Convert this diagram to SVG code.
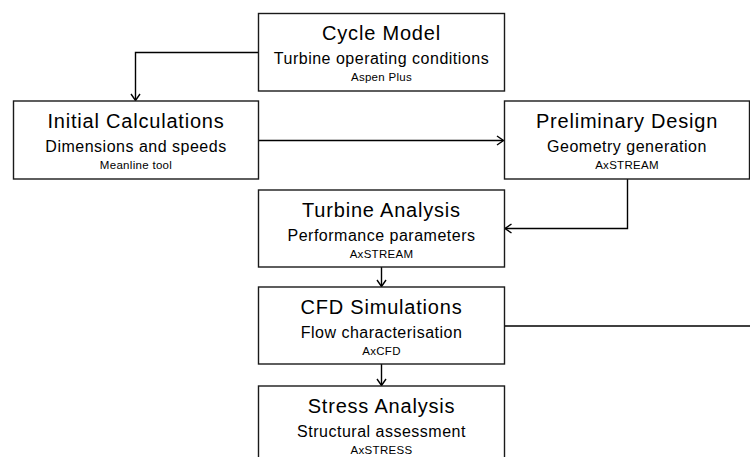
<svg xmlns="http://www.w3.org/2000/svg" width="750" height="457" viewBox="0 0 750 457">
<style>
  .box { fill: #ffffff; stroke: #1a1a1a; stroke-width: 1.4; }
  .conn { fill: none; stroke: #000000; stroke-width: 1.4; }
  text { font-family: "Liberation Sans", Arial, sans-serif; fill: #000000; text-anchor: middle; }
  .t { font-size: 20px; letter-spacing: 0.8px; }
  .s { font-size: 16px; letter-spacing: 0.5px; }
  .k { font-size: 11.5px; letter-spacing: 0.3px; }
</style>
<defs>
  <marker id="arr" markerUnits="userSpaceOnUse" markerWidth="14" markerHeight="14" refX="7" refY="7" orient="auto" overflow="visible">
    <path d="M0.5,2.5 L7,7 L0.5,11.5" fill="none" stroke="#000" stroke-width="1.4"/>
  </marker>
</defs>
<rect width="750" height="457" fill="#ffffff"/>
<g id="connectors">
  <path class="conn" d="M258.5,52.5 H135.5 V100.5" marker-end="url(#arr)"/>
  <path class="conn" d="M258.5,140.5 H503.5" marker-end="url(#arr)"/>
  <path class="conn" d="M627.5,179 V228.5 H505" marker-end="url(#arr)"/>
  <path class="conn" d="M381.5,267 V286.5" marker-end="url(#arr)"/>
  <path class="conn" d="M381.5,364 V385.5" marker-end="url(#arr)"/>
  <path class="conn" d="M504.5,326 H750"/>
</g>
<g id="cycle-model">
  <rect class="box" x="258.5" y="13.5" width="246" height="77.5"/>
  <text class="t" x="381.5" y="40">Cycle Model</text>
  <text class="s" x="381.5" y="64">Turbine operating conditions</text>
  <text class="k" x="381.5" y="81">Aspen Plus</text>
</g>
<g id="initial-calculations">
  <rect class="box" x="13.5" y="101" width="245" height="78"/>
  <text class="t" x="136" y="128">Initial Calculations</text>
  <text class="s" x="136" y="152">Dimensions and speeds</text>
  <text class="k" x="136" y="169">Meanline tool</text>
</g>
<g id="preliminary-design">
  <rect class="box" x="504.5" y="101" width="245" height="78"/>
  <text class="t" x="627" y="128">Preliminary Design</text>
  <text class="s" x="627" y="152">Geometry generation</text>
  <text class="k" x="627" y="169">AxSTREAM</text>
</g>
<g id="turbine-analysis">
  <rect class="box" x="258.5" y="190" width="246" height="77"/>
  <text class="t" x="381.5" y="217">Turbine Analysis</text>
  <text class="s" x="381.5" y="241">Performance parameters</text>
  <text class="k" x="381.5" y="258">AxSTREAM</text>
</g>
<g id="cfd-simulations">
  <rect class="box" x="258.5" y="287" width="246" height="77"/>
  <text class="t" x="381.5" y="314">CFD Simulations</text>
  <text class="s" x="381.5" y="338">Flow characterisation</text>
  <text class="k" x="381.5" y="355">AxCFD</text>
</g>
<g id="stress-analysis">
  <rect class="box" x="258.5" y="386" width="246" height="80"/>
  <text class="t" x="381.5" y="413">Stress Analysis</text>
  <text class="s" x="381.5" y="437">Structural assessment</text>
  <text class="k" x="381.5" y="454">AxSTRESS</text>
</g>
</svg>
